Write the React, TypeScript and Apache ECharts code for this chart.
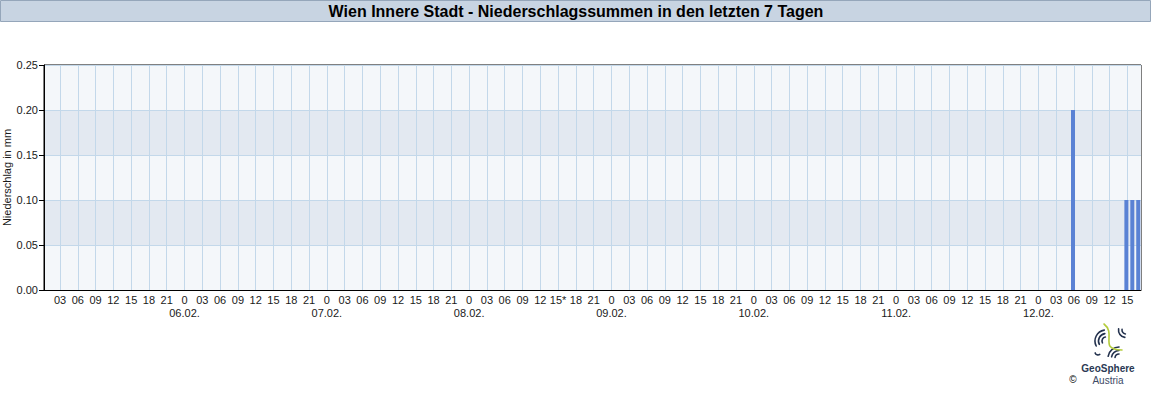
import React, { useEffect, useRef } from "react";
import * as echarts from "echarts";

// Text
const TITLE = "Wien Innere Stadt - Niederschlagssummen in den letzten 7 Tagen";
const Y_NAME = "Niederschlag in mm";

// Time window (dd.mm. hh:mm), hours are counted from 05.02. 00:00
const BASE_DAY = 5;
const VIEW_START = "05.02. 00:18";
const VIEW_END = "12.02. 17:18";

// Tick labels
const DAY_LABELS = ["05.02.", "06.02.", "07.02.", "08.02.", "09.02.", "10.02.", "11.02.", "12.02."];
const HOUR_LABELS = ["0", "03", "06", "09", "12", "15", "18", "21"];
const FLAGGED_TICK = "08.02. 15"; // shown with an asterisk

// Hourly precipitation sums (only hours with rain)
const RAIN_TIMES = ["12.02. 05:50", "12.02. 14:50", "12.02. 15:50", "12.02. 16:50"];
const RAIN_MM = [0.2, 0.1, 0.1, 0.1];

// Y scale
const Y_MIN = 0;
const Y_MAX = 0.25;
const Y_STEP = 0.05;

function toHours(s: string): number {
  const [date, time] = s.split(" ");
  const day = parseInt(date.split(".")[0], 10);
  const [hh, mm] = time.split(":").map((v) => parseInt(v, 10));
  return (day - BASE_DAY) * 24 + hh + (mm || 0) / 60;
}

// concentric arc strokes for the logo mark
function arcs(cx: number, cy: number, radii: number[], a0: number, a1: number, color: string) {
  return radii.map((r) => ({
    type: "arc",
    shape: { cx, cy, r, startAngle: Math.PI * a0, endAngle: Math.PI * a1, clockwise: true },
    style: { stroke: color, lineWidth: 1.6, fill: null, lineCap: "round" },
  }));
}

export default function App() {
  const ref = useRef<HTMLDivElement>(null);

  useEffect(() => {
    document.body.style.margin = "0";
    if (!ref.current) return;
    const chart = echarts.init(ref.current, undefined, { renderer: "svg" });

    const xMin = toHours(VIEW_START);
    const xMax = toHours(VIEW_END);

    // tick positions and their labels
    const tickValues: number[] = [];
    const tickText: Record<number, string> = {};
    DAY_LABELS.forEach((day, d) => {
      HOUR_LABELS.forEach((hl) => {
        const h = d * 24 + parseInt(hl, 10);
        if (h < xMin || h > xMax) return;
        tickValues.push(h);
        let txt = hl;
        if (`${day} ${hl}` === FLAGGED_TICK) txt = hl + "*";
        if (hl === "0") txt = "0\n" + day;
        tickText[h] = txt;
      });
    });

    const barData = RAIN_TIMES.map((t, i) => [toHours(t), RAIN_MM[i]]);

    const font = "'Liberation Sans', Arial, sans-serif";
    const gridColor = "#c3d8ea";
    const logoInk = "#23314d";

    chart.setOption({
      animation: false,
      backgroundColor: "#ffffff",
      grid: {
        left: 44,
        top: 65,
        right: 11,
        bottom: 110,
        outerBoundsMode: "none",
        containLabel: false,
        show: true,
        borderColor: "#000000",
        borderWidth: 1,
        backgroundColor: "transparent",
      },
      xAxis: {
        type: "value",
        min: xMin,
        max: xMax,
        axisLine: { show: true, onZero: false, lineStyle: { color: "#000000", width: 1 } },
        axisTick: { show: false, customValues: tickValues },
        axisLabel: {
          customValues: tickValues,
          formatter: (v: number) => tickText[Math.round(v)] ?? "",
          color: "#1a1a1a",
          fontFamily: font,
          fontSize: 11,
          lineHeight: 13,
          margin: 3,
          showMinLabel: true,
          showMaxLabel: true,
        },
        splitLine: { show: true, lineStyle: { color: gridColor, width: 1 } },
      },
      yAxis: {
        type: "value",
        min: Y_MIN,
        max: Y_MAX,
        interval: Y_STEP,
        name: Y_NAME,
        nameLocation: "middle",
        nameGap: 32,
        nameMoveOverlap: false,
        nameTextStyle: { fontFamily: font, fontSize: 11, color: "#1a1a1a" },
        axisLine: { show: true, lineStyle: { color: "#000000", width: 1 } },
        axisTick: { show: true, length: 5, lineStyle: { color: "#000000" } },
        axisLabel: {
          formatter: (v: number) => v.toFixed(2),
          color: "#1a1a1a",
          fontFamily: font,
          fontSize: 11,
          margin: 6,
        },
        splitLine: { show: true, lineStyle: { color: gridColor, width: 1 } },
        splitArea: { show: true, areaStyle: { color: ["#f4f7fa", "#e3e9f1"] } },
      },
      series: [
        {
          type: "bar",
          data: barData,
          barWidth: 4,
          itemStyle: { color: "#5a82d4" },
          z: 3,
        },
      ],
      graphic: [
        // title banner
        {
          type: "rect",
          shape: { x: 0.5, y: 0.5, width: 1150, height: 21 },
          style: { fill: "#c8d4e2", stroke: "#95a6ba", lineWidth: 1 },
          z: 10,
        },
        {
          type: "text",
          x: 576,
          y: 11.5,
          style: {
            text: TITLE,
            fontFamily: font,
            fontSize: 16,
            fontWeight: "bold",
            fill: "#000000",
            align: "center",
            verticalAlign: "middle",
          },
          z: 11,
        },
        // logo mark
        {
          type: "group",
          z: 10,
          children: [
            ...arcs(1106, 341, [4, 7.5, 11], 0.85, 1.45, logoInk),
            ...arcs(1119, 358, [4, 7.5, 11], 1.05, 1.5, logoInk),
            ...arcs(1126, 330, [4, 7.5], 0.55, 1.05, logoInk),
            ...arcs(1098, 352, [3], 0.3, 0.9, logoInk),
            {
              type: "bezierCurve",
              shape: { x1: 1104, y1: 324, x2: 1122, y2: 350, cpx1: 1117, cpy1: 334, cpx2: 1098, cpy2: 350 },
              style: { stroke: "#b4cc3c", lineWidth: 1.6, fill: null, lineCap: "round" },
            },
          ],
        },
        {
          type: "text",
          x: 1108,
          y: 368,
          style: {
            text: "GeoSphere",
            fontFamily: font,
            fontSize: 10,
            fontWeight: "bold",
            fill: "#2a3954",
            align: "center",
            verticalAlign: "middle",
          },
        },
        {
          type: "text",
          x: 1108,
          y: 380,
          style: {
            text: "Austria",
            fontFamily: font,
            fontSize: 10,
            fill: "#3d4a66",
            align: "center",
            verticalAlign: "middle",
          },
        },
        {
          type: "text",
          x: 1073,
          y: 379,
          style: {
            text: "©",
            fontFamily: font,
            fontSize: 10,
            fill: "#000000",
            align: "center",
            verticalAlign: "middle",
          },
        },
      ],
    });

    return () => chart.dispose();
  }, []);

  return <div ref={ref} style={{ width: 1152, height: 400 }} />;
}
